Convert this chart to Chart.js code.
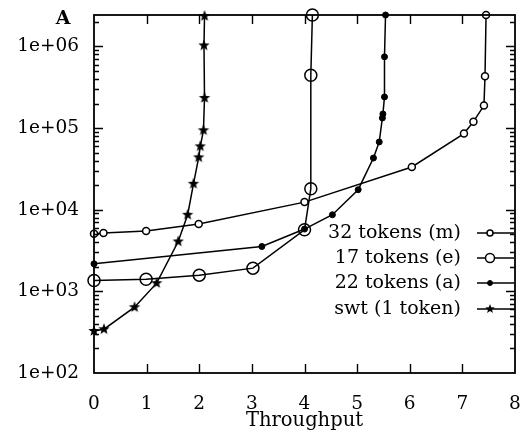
<!DOCTYPE html>
<html><head><meta charset="utf-8">
<script src="https://cdn.jsdelivr.net/npm/chart.js@4.4.0/dist/chart.umd.min.js"></script>
<style>html,body{margin:0;padding:0;background:#fff}</style>
</head><body>
<canvas id="c" width="528" height="438" style="width:528px;height:438px;display:block"></canvas>
<script>
// ---- data ----
const xTickValues = [0, 1, 2, 3, 4, 5, 6, 7, 8];
const yDecades = [100, 1000, 10000, 100000, 1000000];
const yTickLabels = ['1e+02', '1e+03', '1e+04', '1e+05', '1e+06'];
const seriesNames = ['32 tokens (m)', '17 tokens (e)', '22 tokens (a)', 'swt (1 token)'];

const m32X = [0, 0.18, 0.99, 1.99, 4.0, 6.04, 7.03, 7.21, 7.41, 7.43, 7.45];
const m32Y = [5080, 5180, 5480, 6670, 12400, 33400, 85700, 120000, 189000, 432000, 2430000];

const e17X = [0, 0.99, 2.0, 3.02, 4.0, 4.12, 4.12, 4.15];
const e17Y = [1357, 1410, 1580, 1925, 5680, 18100, 445000, 2430000];

const a22X = [0, 3.19, 4.0, 4.53, 5.02, 5.31, 5.42, 5.48, 5.49, 5.52, 5.52, 5.54];
const a22Y = [2175, 3545, 5800, 8680, 17600, 43000, 67700, 133000, 149000, 241000, 747000, 2430000];

const swtX = [0, 0.19, 0.77, 1.19, 1.6, 1.78, 1.89, 1.99, 2.02, 2.08, 2.1, 2.09, 2.1];
const swtY = [327, 344, 640, 1260, 4085, 8680, 20800, 43800, 59800, 94000, 234000, 1030000, 2360000];

const yMin = 100, yMax = 2430000;

function pts(xs, ys) { return xs.map((x, i) => ({ x: x, y: ys[i] })); }

// star marker
function makeStar(R) {
  const s = Math.ceil(R * 2 + 2);
  const cv = document.createElement('canvas');
  cv.width = s; cv.height = s;
  const c = cv.getContext('2d');
  c.fillStyle = '#000';
  c.beginPath();
  const r = R * 0.42;
  for (let i = 0; i < 10; i++) {
    const rad = i % 2 === 0 ? R : r;
    const a = -Math.PI / 2 + i * Math.PI / 5;
    const px = s / 2 + rad * Math.cos(a), py = s / 2 + rad * Math.sin(a);
    if (i === 0) c.moveTo(px, py); else c.lineTo(px, py);
  }
  c.closePath(); c.fill();
  return cv;
}
const star = makeStar(6);
const smallStar = makeStar(5);

const FONT = 'DejaVu Serif';

const marks = [
  { style: 'circle', radius: 3.5, bg: '#fff', bw: 1.5, lr: 3 },
  { style: 'circle', radius: 6, bg: 'rgba(255,255,255,0)', bw: 1.5, lr: 4.5 },
  { style: 'circle', radius: 3, bg: '#000', bw: 1, lr: 2.5 },
  { style: star, radius: 6, bg: '#000', bw: 1, lr: 5 }
];

const frameAndLegend = {
  id: 'frameAndLegend',
  afterDraw(chart) {
    const ctx = chart.ctx;
    const { left, right, top, bottom } = chart.chartArea;
    const xs = chart.scales.x, ys = chart.scales.y;
    ctx.save();
    ctx.strokeStyle = '#000';
    ctx.lineWidth = 1.8;
    ctx.strokeRect(left, top, right - left, bottom - top);
    ctx.lineWidth = 1.4;
    ctx.beginPath();
    xTickValues.forEach(v => {
      if (v <= 0 || v >= 8) return;
      const px = Math.round(xs.getPixelForValue(v)) + 0.5;
      ctx.moveTo(px, bottom); ctx.lineTo(px, bottom - 9);
      ctx.moveTo(px, top); ctx.lineTo(px, top + 9);
    });
    yDecades.forEach(d => {
      for (let m = 1; m <= 9; m++) {
        const v = m * d;
        if (v <= yMin || v >= yMax) continue;
        const py = Math.round(ys.getPixelForValue(v)) + 0.5;
        const len = m === 1 ? 9 : 5;
        ctx.moveTo(left, py); ctx.lineTo(left + len, py);
        ctx.moveTo(right, py); ctx.lineTo(right - len, py);
      }
    });
    ctx.stroke();

    // panel letter
    ctx.fillStyle = '#000';
    ctx.font = 'bold 19px "' + FONT + '"';
    ctx.textAlign = 'center';
    ctx.textBaseline = 'middle';
    ctx.fillText('A', 63, 19);

    // legend
    ctx.font = '19px "' + FONT + '"';
    ctx.textAlign = 'right';
    const rowsY = [233, 258, 283, 309];
    seriesNames.forEach((name, i) => {
      const yy = rowsY[i];
      ctx.fillStyle = '#000';
      ctx.fillText(name, 461, yy);
      ctx.beginPath();
      ctx.lineWidth = 1.4;
      ctx.moveTo(477, yy); ctx.lineTo(514, yy);
      ctx.stroke();
      const mk = marks[i];
      const cx = 490;
      if (mk.style === 'circle') {
        ctx.beginPath();
        ctx.arc(cx, yy, mk.lr, 0, Math.PI * 2);
        ctx.fillStyle = mk.bg === '#000' ? '#000' : '#fff';
        ctx.fill();
        ctx.lineWidth = mk.bw;
        ctx.stroke();
      } else {
        ctx.drawImage(smallStar, cx - smallStar.width / 2, yy - smallStar.height / 2);
      }
    });
    ctx.restore();
  }
};

const datasets = [
  { label: seriesNames[0], data: pts(m32X, m32Y) },
  { label: seriesNames[1], data: pts(e17X, e17Y) },
  { label: seriesNames[2], data: pts(a22X, a22Y) },
  { label: seriesNames[3], data: pts(swtX, swtY) }
].map((d, i) => Object.assign(d, {
  borderColor: '#000',
  borderWidth: 1.5,
  pointStyle: marks[i].style,
  pointRadius: marks[i].radius,
  pointBackgroundColor: marks[i].bg,
  pointBorderColor: '#000',
  pointBorderWidth: marks[i].bw,
  tension: 0,
  clip: false,
  fill: false
}));

new Chart(document.getElementById('c'), {
  type: 'line',
  data: { datasets: datasets },
  options: {
    responsive: false,
    animation: false,
    layout: { padding: { left: 0, right: 13, top: 15, bottom: 0 } },
    plugins: { legend: { display: false }, tooltip: { enabled: false } },
    scales: {
      x: {
        type: 'linear', min: 0, max: 8,
        grid: { display: false },
        border: { display: false },
        afterBuildTicks: s => { s.ticks = xTickValues.map(v => ({ value: v })); },
        afterFit: s => { s.height = 65; s.paddingLeft = 0; s.paddingRight = 0; },
        ticks: { color: '#000', font: { family: FONT, size: 18.5 }, padding: 12, maxRotation: 0, autoSkip: false },
        title: { display: true, text: 'Throughput', color: '#000', font: { family: FONT, size: 19.5 }, padding: { top: 0, bottom: 5 } }
      },
      y: {
        type: 'logarithmic', min: yMin, max: yMax,
        grid: { display: false },
        border: { display: false },
        afterBuildTicks: s => { s.ticks = yDecades.map(v => ({ value: v })); },
        afterFit: s => { s.width = 94; s.paddingTop = 0; s.paddingBottom = 0; },
        ticks: {
          color: '#000', font: { family: FONT, size: 18.5 }, padding: 7, autoSkip: false,
          callback: (v) => { const i = yDecades.indexOf(v); return i >= 0 ? yTickLabels[i] : ''; }
        }
      }
    }
  },
  plugins: [frameAndLegend]
});
</script>
</body></html>
